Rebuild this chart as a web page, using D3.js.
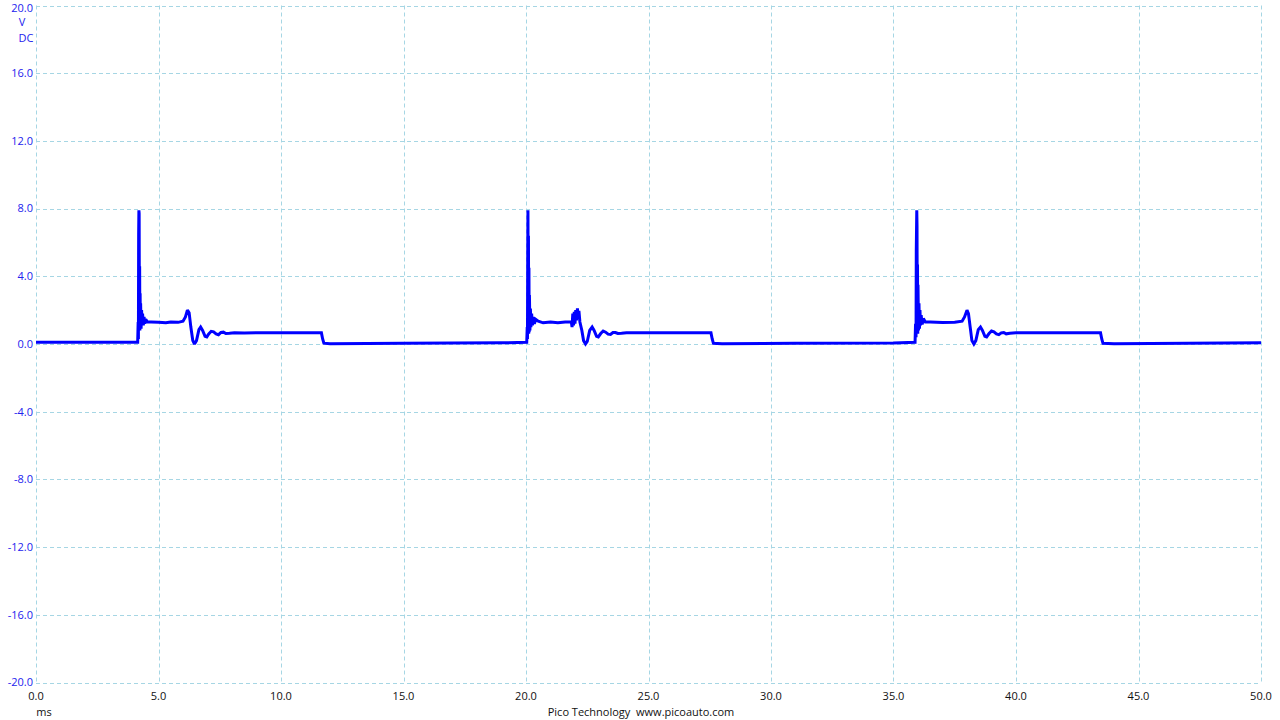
<!DOCTYPE html>
<html><head><meta charset="utf-8">
<script src="https://cdn.jsdelivr.net/npm/d3@7"></script>
<style>
html,body{margin:0;padding:0;background:#fff;}
svg{display:block;font-family:"Open Sans","DejaVu Sans",sans-serif;}
</style></head>
<body>
<svg id="chart" width="1280" height="720"></svg>
<script>
// ---- data ----
const xTicks = [0,5,10,15,20,25,30,35,40,45,50];
const yTicks = [20,16,12,8,4,0,-4,-8,-12,-16,-20];
const xUnit = "ms";
const yUnit = ["V","DC"];
const footer = "Pico Technology  www.picoauto.com";

// [time ms, volts]
const pulse1 = [
 [0,0.1],[2,0.1],[4.15,0.1],[4.17,1.3],[4.18,0.3],[4.19,6.5],[4.20,7.9],[4.21,7.7],[4.22,1.5],[4.23,4.6],
 [4.24,0.8],[4.25,3.0],[4.26,1.0],[4.27,2.4],[4.29,0.9],[4.31,2.0],[4.33,1.1],[4.35,1.8],[4.38,1.1],
 [4.41,1.6],[4.44,1.2],[4.48,1.45],[4.55,1.3],[4.7,1.3],[5.0,1.28],[5.3,1.25],[5.5,1.3],[5.8,1.28],
 [6.0,1.35],[6.1,1.6],[6.18,2.0],[6.25,1.85],[6.32,1.0],[6.4,0.2],[6.47,0.0],[6.55,0.2],[6.65,0.85],
 [6.72,1.0],[6.8,0.8],[6.9,0.45],[6.97,0.42],[7.05,0.6],[7.15,0.75],[7.25,0.72],[7.35,0.6],[7.45,0.55],
 [7.55,0.68],[7.65,0.7],[7.75,0.62],[7.9,0.63],[8.1,0.67],[8.5,0.65],[9.0,0.66],[10.0,0.66],[11.0,0.66],
 [11.65,0.66],[11.7,0.3],[11.75,0.05],[12.0,0.02],[15.0,0.05],[19.0,0.07],[20.03,0.1]
];
const pulse2 = [
 [20.03,0.1],[20.05,1.0],[20.06,0.3],[20.07,5.0],[20.08,7.9],[20.09,1.5],[20.10,6.4],[20.11,0.6],
 [20.12,4.5],[20.13,0.7],[20.14,2.9],[20.16,0.8],[20.18,2.1],[20.20,1.0],[20.23,1.8],[20.26,1.1],
 [20.3,1.6],[20.34,1.2],[20.4,1.45],[20.5,1.35],[20.7,1.25],[21.0,1.3],[21.3,1.25],[21.6,1.3],[21.85,1.3],
 [21.88,1.0],[21.91,1.8],[21.94,1.1],[21.97,1.9],[22.0,1.2],[22.03,2.0],[22.06,1.4],[22.1,2.1],[22.13,1.5],
 [22.16,1.95],[22.2,1.3],[22.28,0.8],[22.35,0.2],[22.43,0.0],[22.5,0.15],[22.6,0.8],[22.7,1.0],[22.78,0.8],
 [22.88,0.45],[22.95,0.42],[23.05,0.62],[23.15,0.77],[23.25,0.7],[23.35,0.58],[23.45,0.56],[23.55,0.68],
 [23.65,0.68],[23.75,0.62],[23.9,0.63],[24.1,0.66],[25,0.66],[26,0.66],[27.55,0.66],[27.6,0.3],
 [27.65,0.04],[28,0.02],[31,0.04],[35,0.06],[35.88,0.1]
];
const pulse3 = [
 [35.88,0.1],[35.9,1.2],[35.92,0.4],[35.93,5.5],[35.95,7.9],[35.96,7.0],[35.97,1.3],[35.98,4.7],
 [35.99,0.6],[36.0,3.5],[36.02,0.8],[36.04,2.4],[36.06,0.9],[36.08,2.0],[36.1,1.1],[36.13,1.7],
 [36.17,1.15],[36.22,1.5],[36.3,1.3],[36.5,1.3],[37.0,1.27],[37.5,1.28],[37.8,1.35],[37.9,1.6],
 [38.0,2.0],[38.06,1.8],[38.13,1.0],[38.2,0.2],[38.28,0.0],[38.36,0.2],[38.46,0.85],[38.55,1.0],
 [38.63,0.8],[38.73,0.45],[38.8,0.42],[38.9,0.62],[39.0,0.77],[39.1,0.72],[39.2,0.6],[39.3,0.55],
 [39.4,0.66],[39.5,0.68],[39.6,0.6],[39.75,0.63],[40,0.66],[41,0.66],[43.45,0.66],[43.5,0.3],
 [43.55,0.04],[44,0.02],[47,0.05],[50,0.08]
];

// ---- layout ----
const svg = d3.select("#chart");
const L = 36, R = 1261, T = 5.5, B = 682.5;
const x = d3.scaleLinear().domain([0,50]).range([L,R]);
const y = d3.scaleLinear().domain([-20,20]).range([B,T]);
const gridColor = "#a6d6e4";

// grid
const grid = svg.append("g");
grid.selectAll("line.v").data(xTicks).join("line")
  .attr("x1",d=>Math.round(x(d))+0.5).attr("x2",d=>Math.round(x(d))+0.5)
  .attr("y1",T).attr("y2",B)
  .attr("stroke",gridColor).attr("stroke-width",1).attr("stroke-dasharray","4,3");
grid.selectAll("line.h").data(yTicks).join("line")
  .attr("y1",d=>Math.round(y(d))+0.5).attr("y2",d=>Math.round(y(d))+0.5)
  .attr("x1",L).attr("x2",R)
  .attr("stroke",gridColor).attr("stroke-width",1).attr("stroke-dasharray","4,3");

// y labels
svg.append("g").selectAll("text").data(yTicks).join("text")
  .attr("x",33).attr("y",d=>Math.max(y(d),8.5)).attr("dy","0.35em")
  .attr("text-anchor","end").attr("font-size",11).attr("fill","#2222ee")
  .text(d=>d.toFixed(1));
svg.append("text").attr("x",22).attr("y",22).attr("dy","0.35em").attr("text-anchor","middle")
  .attr("font-size",11).attr("fill","#2222ee").text(yUnit[0]);
svg.append("text").attr("x",26).attr("y",38).attr("dy","0.35em").attr("text-anchor","middle")
  .attr("font-size",11).attr("fill","#2222ee").text(yUnit[1]);

// x labels
svg.append("g").selectAll("text").data(xTicks).join("text")
  .attr("x",d=>x(d)).attr("y",696).attr("dy","0.35em")
  .attr("text-anchor","middle").attr("font-size",11).attr("fill","#111")
  .text(d=>d.toFixed(1));
svg.append("text").attr("x",44).attr("y",712).attr("dy","0.35em").attr("text-anchor","middle")
  .attr("font-size",11).attr("fill","#111").text(xUnit);
svg.append("text").attr("x",641).attr("y",712).attr("dy","0.35em").attr("text-anchor","middle")
  .attr("font-size",11).attr("fill","#111").attr("xml:space","preserve")
  .style("white-space","pre").text(footer);

// trace
const data = pulse1.concat(pulse2.slice(1), pulse3.slice(1));
const line = d3.line().x(d=>x(d[0])).y(d=>y(d[1]));
svg.append("path").datum(data).attr("d",line)
  .attr("fill","none").attr("stroke","#0000ff").attr("stroke-width",3)
  .attr("stroke-linejoin","miter").attr("stroke-miterlimit",2);
</script>
</body></html>
